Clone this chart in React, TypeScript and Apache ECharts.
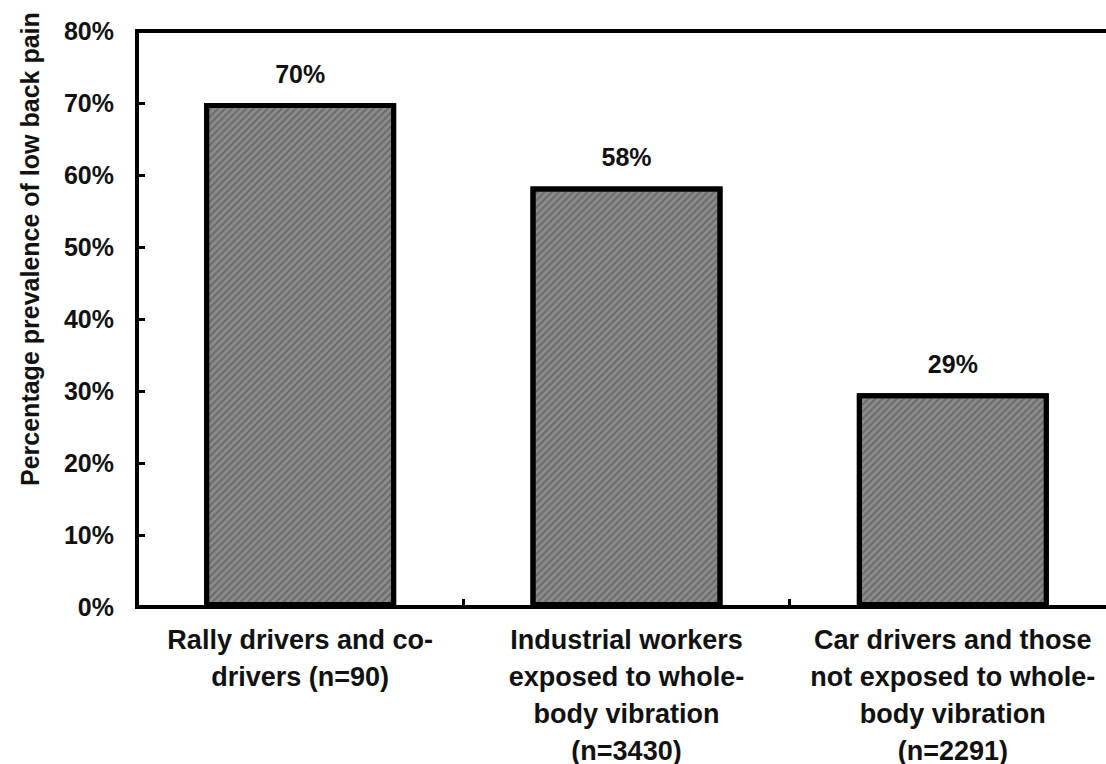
import React, { useEffect, useRef } from "react";
import * as echarts from "echarts";

const categories = [
  "Rally drivers and co-\ndrivers (n=90)",
  "Industrial workers\nexposed to whole-\nbody vibration\n(n=3430)",
  "Car drivers and those\nnot exposed to whole-\nbody vibration\n(n=2291)",
];
const values = [70, 58.4, 29.7];
const valueLabels = ["70%", "58%", "29%"];
const yTitle = "Percentage prevalence of low back pain";

const FONT = "'Liberation Sans', Arial, Helvetica, sans-serif";

export default function App() {
  const ref = useRef<HTMLDivElement>(null);
  useEffect(() => {
    if (!ref.current) return;
    const chart = echarts.init(ref.current, null, { renderer: "svg" });
    chart.setOption({
      animation: false,
      backgroundColor: "#ffffff",
      grid: {
        left: 137,
        top: 31,
        width: 979,
        height: 576,
        show: true,
        borderColor: "#000",
        borderWidth: 4,
        containLabel: false,
        outerBoundsMode: "none",
      },
      xAxis: {
        type: "category",
        data: categories,
        axisLine: { show: true, lineStyle: { color: "#000", width: 4 } },
        axisTick: { show: true, inside: true, length: 8, lineStyle: { color: "#000", width: 3 } },
        axisLabel: {
          interval: 0,
          margin: 14,
          color: "#111",
          fontFamily: FONT,
          fontWeight: "bold",
          fontSize: 27,
          lineHeight: 37,
          align: "center",
        },
        splitLine: { show: false },
      },
      yAxis: {
        type: "value",
        min: 0,
        max: 80,
        interval: 10,
        axisLine: { show: true, lineStyle: { color: "#000", width: 4 } },
        axisTick: { show: true, inside: true, length: 8, lineStyle: { color: "#000", width: 3 } },
        axisLabel: {
          formatter: "{value}%",
          margin: 23,
          color: "#111",
          fontFamily: FONT,
          fontWeight: "bold",
          fontSize: 25,
        },
        splitLine: { show: false },
      },
      graphic: [
        {
          type: "text",
          x: 30,
          y: 486,
          rotation: Math.PI / 2,
          style: {
            text: yTitle,
            fill: "#111",
            font: `bold 25px ${FONT}`,
            textAlign: "left",
            textVerticalAlign: "middle",
          },
        },
      ],
      series: [
        {
          type: "bar",
          data: values,
          barWidth: 192,
          itemStyle: {
            color: "#8a8a8a",
            borderColor: "#000",
            borderWidth: 5,
            decal: {
              symbol: "rect",
              color: "rgba(70,70,70,0.45)",
              dashArrayX: [1, 0],
              dashArrayY: [2, 3],
              rotation: -Math.PI / 4,
            },
          },
          label: {
            show: true,
            position: "top",
            distance: 17,
            formatter: (p: any) => valueLabels[p.dataIndex],
            color: "#111",
            fontFamily: FONT,
            fontWeight: "bold",
            fontSize: 25,
          },
        },
      ],
    });
    return () => chart.dispose();
  }, []);
  return (
    <div
      ref={ref}
      style={{ position: "absolute", left: 0, top: 0, width: 1106, height: 764, overflow: "hidden" }}
    />
  );
}
